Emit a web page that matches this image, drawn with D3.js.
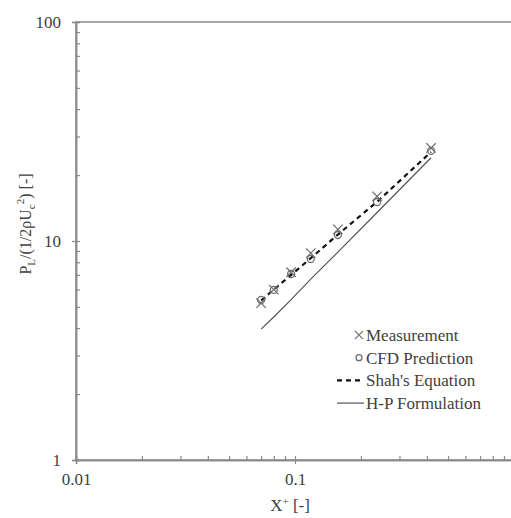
<!DOCTYPE html>
<html>
<head>
<meta charset="utf-8">
<script src="https://cdn.jsdelivr.net/npm/d3@7"></script>
<style>
  html, body { margin: 0; padding: 0; background: #fff; overflow: hidden; }
  text { font-family: "Liberation Serif", "DejaVu Serif", "Times New Roman", serif; fill: #404040; }
</style>
</head>
<body>
<div id="chart"></div>
<script>
// X+ positions of the data
const xValues = [0.07, 0.08, 0.096, 0.118, 0.157, 0.237, 0.418];
const measurement = [5.2, 6.0, 7.2, 8.8, 11.3, 16.0, 26.6];
const cfdPrediction = [5.38, 5.98, 7.07, 8.28, 10.65, 15.07, 25.8];
const shahEquation = [5.35, 6.0, 7.0, 8.35, 10.7, 15.1, 25.5];
const hpFormulation = [3.96, 4.5, 5.4, 6.7, 8.9, 13.5, 24.0];

const xTicks = [0.01, 0.1, 1];
const yTicks = [1, 10, 100];
const legendLabels = ["Measurement", "CFD Prediction", "Shah's Equation", "H-P Formulation"];

const width = 511;
const height = 518;
const margin = { left: 76, top: 22, right: width - 514, bottom: height - 460 };
const axisColor = "#8a8a8a";
const markColor = "#6e6e6e";
const serif = '"Liberation Serif", "DejaVu Serif", "Times New Roman", serif';

const svg = d3.select("#chart").append("svg")
    .attr("width", width)
    .attr("height", height);

const x = d3.scaleLog().domain([0.01, 1]).range([margin.left, width - margin.right]);
const y = d3.scaleLog().domain([1, 100]).range([height - margin.bottom, margin.top]);

function minorTicks(lo, hi) {
    const out = [];
    for (let dec = lo; dec < hi; dec *= 10) {
        for (let k = 2; k <= 9; k += 1) out.push(dec * k);
    }
    return out;
}

// plot frame (top edge visible, right edge falls past the window)
svg.append("rect")
    .attr("x", x(0.01))
    .attr("y", y(100))
    .attr("width", x(1) - x(0.01))
    .attr("height", y(1) - y(100))
    .attr("fill", "none")
    .attr("stroke", axisColor)
    .attr("stroke-width", 1.5);

// inner ticks, major and minor
const yInner = svg.append("g")
    .attr("transform", `translate(${x(0.01)},0)`)
    .call(d3.axisLeft(y).tickValues(minorTicks(1, 100).concat(yTicks)).tickSize(-4).tickFormat(""));
const xInner = svg.append("g")
    .attr("transform", `translate(0,${y(1)})`)
    .call(d3.axisBottom(x).tickValues(minorTicks(0.01, 1).concat(xTicks)).tickSize(-4).tickFormat(""));

// major ticks with labels
const yAxis = svg.append("g")
    .attr("transform", `translate(${x(0.01)},0)`)
    .call(d3.axisLeft(y).tickValues(yTicks).tickSize(4).tickPadding(11).tickFormat(d3.format("d")));
const xAxis = svg.append("g")
    .attr("transform", `translate(0,${y(1)})`)
    .call(d3.axisBottom(x).tickValues(xTicks).tickSize(4).tickPadding(9).tickFormat(d => String(d)));

[yInner, xInner, yAxis, xAxis].forEach(g => {
    g.attr("font-family", null);
    g.select(".domain").attr("stroke", axisColor).attr("stroke-width", 1.5);
    g.selectAll(".tick line").attr("stroke", axisColor).attr("stroke-width", 1.2);
    g.selectAll(".tick text")
        .attr("fill", "#404040")
        .style("font-family", serif)
        .style("font-size", "17px");
});

// axis titles
svg.append("text")
    .attr("x", 290)
    .attr("y", 511)
    .attr("text-anchor", "middle")
    .style("font-family", serif)
    .style("font-size", "17px")
    .html('X<tspan dy="-6" font-size="11px">+</tspan><tspan dy="6"> [-]</tspan>');

svg.append("text")
    .attr("transform", "translate(31,224) rotate(-90)")
    .attr("text-anchor", "middle")
    .style("font-family", serif)
    .style("font-size", "16px")
    .html('P<tspan dy="4" font-size="11px">L</tspan><tspan dy="-4">/(1/2ρU</tspan>' +
          '<tspan dy="4" font-size="11px">c</tspan><tspan dy="-11" font-size="11px">2</tspan>' +
          '<tspan dy="7">) [-]</tspan>');

// lines
const lineGen = d3.line().x(d => x(d[0])).y(d => y(d[1]));

svg.append("path")
    .datum(d3.zip(xValues, hpFormulation))
    .attr("fill", "none")
    .attr("stroke", "#555")
    .attr("stroke-width", 1.2)
    .attr("d", lineGen);

svg.append("path")
    .datum(d3.zip(xValues, shahEquation))
    .attr("fill", "none")
    .attr("stroke", "#111")
    .attr("stroke-width", 2.2)
    .attr("stroke-dasharray", "5,4")
    .attr("d", lineGen);

// markers
const cross = d3.symbol().type(d3.symbolX).size(60);
const legendCross = d3.symbol().type(d3.symbolX).size(45);

svg.append("g").selectAll("path")
    .data(d3.zip(xValues, measurement))
    .join("path")
    .attr("transform", d => `translate(${x(d[0])},${y(d[1])})`)
    .attr("d", cross)
    .attr("fill", "none")
    .attr("stroke", markColor)
    .attr("stroke-width", 1.2);

svg.append("g").selectAll("circle")
    .data(d3.zip(xValues, cfdPrediction))
    .join("circle")
    .attr("cx", d => x(d[0]))
    .attr("cy", d => y(d[1]))
    .attr("r", 3.5)
    .attr("fill", "none")
    .attr("stroke", markColor)
    .attr("stroke-width", 1.3);

// legend
const legend = svg.append("g").attr("transform", "translate(337,335)");
const rowGap = 22.7;

legendLabels.forEach((label, i) => {
    const row = legend.append("g").attr("transform", `translate(0,${i * rowGap})`);
    if (i === 0) {
        row.append("path")
            .attr("transform", "translate(22,0)")
            .attr("d", legendCross)
            .attr("fill", "none")
            .attr("stroke", markColor)
            .attr("stroke-width", 1.2);
    } else if (i === 1) {
        row.append("circle")
            .attr("cx", 22)
            .attr("r", 3)
            .attr("fill", "none")
            .attr("stroke", markColor)
            .attr("stroke-width", 1.3);
    } else {
        row.append("line")
            .attr("x1", 0)
            .attr("x2", 27)
            .attr("stroke", i === 2 ? "#111" : "#555")
            .attr("stroke-width", i === 2 ? 2.2 : 1.2)
            .attr("stroke-dasharray", i === 2 ? "5,4" : null);
    }
    row.append("text")
        .attr("x", 29)
        .attr("y", 6)
        .style("font-family", serif)
        .style("font-size", "17px")
        .text(label);
});
</script>
</body>
</html>
